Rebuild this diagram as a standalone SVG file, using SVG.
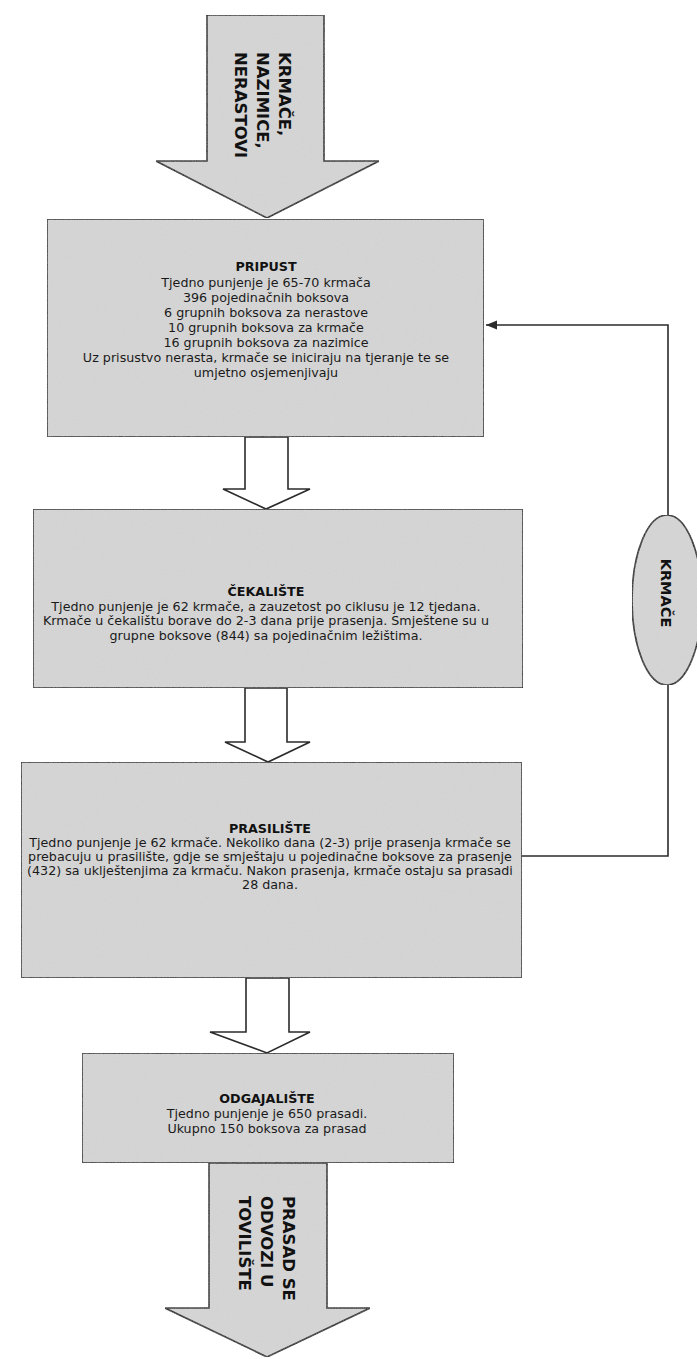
<svg xmlns="http://www.w3.org/2000/svg" width="697" height="1359" viewBox="0 0 697 1359">
<style>
  .box { fill: #d6d6d6; stroke: #2b2b2b; stroke-width: 1.6; filter: url(#grain); }
  .blk { fill: #d6d6d6; stroke: #2b2b2b; stroke-width: 1.6; stroke-linejoin: miter; filter: url(#grain); }
  .warr { fill: #ffffff; stroke: #2b2b2b; stroke-width: 1.6; stroke-linejoin: miter; }
  .line { fill: none; stroke: #2b2b2b; stroke-width: 1.6; }
  .t { font-family: "DejaVu Sans", Verdana, sans-serif; font-size: 12.7px; fill: #1a1a1a; text-anchor: middle; }
  .h { font-family: "DejaVu Sans", Verdana, sans-serif; font-size: 12.7px; font-weight: bold; fill: #111; text-anchor: middle; }
  .v { font-family: "DejaVu Sans", Verdana, sans-serif; font-size: 16.5px; font-weight: bold; fill: #111; text-anchor: start; }
  .ve { font-family: "DejaVu Sans", Verdana, sans-serif; font-size: 14.5px; font-weight: bold; fill: #111; text-anchor: middle; }
</style>
<defs>
  <filter id="grain" x="0" y="0" width="1" height="1" filterUnits="objectBoundingBox">
    <feTurbulence type="fractalNoise" baseFrequency="0.9" numOctaves="2" seed="3" result="n"/>
    <feColorMatrix in="n" type="matrix" values="0 0 0 0 0.55  0 0 0 0 0.55  0 0 0 0 0.55  0 0 0 0.35 -0.08" result="g"/>
    <feComposite in="g" in2="SourceGraphic" operator="in" result="gi"/>
    <feMerge><feMergeNode in="SourceGraphic"/><feMergeNode in="gi"/></feMerge>
  </filter>
  <marker id="ah" viewBox="0 0 10 10" refX="10" refY="5" markerWidth="11" markerHeight="11" markerUnits="userSpaceOnUse" orient="auto">
    <path d="M0,1 L10,5 L0,9 Z" fill="#2b2b2b"/>
  </marker>
</defs>
<rect width="697" height="1359" fill="#ffffff"/>

<g id="connectors">
  <path class="warr" d="M245,437 L288,437 L288,489 L310,489 L266,509 L223,489 L245,489 Z"/>
  <path class="warr" d="M245,688 L287,688 L287,742 L310,742 L268,762 L225,742 L245,742 Z"/>
  <path class="warr" d="M246,978 L289,978 L289,1032 L310,1032 L267,1053 L210,1032 L246,1032 Z"/>
  <path class="line" d="M522,856 L668,856 L668,685"/>
  <path class="line" d="M668,515 L668,325 L486,325" marker-end="url(#ah)"/>
</g>

<g id="input-arrow">
  <path class="blk" d="M207,15 L324,15 L324,161 L379,161 L267,218 L156,161 L207,161 Z"/>
  <text class="v" transform="translate(279,52) rotate(90)">KRMAČE,</text>
  <text class="v" transform="translate(257,52) rotate(90)">NAZIMICE,</text>
  <text class="v" transform="translate(235,52) rotate(90)">NERASTOVI</text>
</g>

<g id="pripust">
  <rect class="box" x="47" y="219" width="437" height="218"/>
  <text class="h" x="266" y="271">PRIPUST</text>
  <text class="t" x="266" y="287">Tjedno punjenje je 65-70 krmača</text>
  <text class="t" x="266" y="302">396 pojedinačnih boksova</text>
  <text class="t" x="266" y="317">6 grupnih boksova za nerastove</text>
  <text class="t" x="266" y="332">10 grupnih boksova za krmače</text>
  <text class="t" x="266" y="347">16 grupnih boksova za nazimice</text>
  <text class="t" x="266" y="362">Uz prisustvo nerasta, krmače se iniciraju na tjeranje te se</text>
  <text class="t" x="266" y="377">umjetno osjemenjivaju</text>
</g>

<g id="cekaliste">
  <rect class="box" x="33" y="509" width="490" height="179"/>
  <text class="h" x="266" y="596">ČEKALIŠTE</text>
  <text class="t" x="266" y="611">Tjedno punjenje je 62 krmače, a zauzetost po ciklusu je 12 tjedana.</text>
  <text class="t" x="266" y="625">Krmače u čekalištu borave do 2-3 dana prije prasenja. Smještene su u</text>
  <text class="t" x="266" y="640">grupne boksove (844) sa pojedinačnim ležištima.</text>
</g>

<g id="prasiliste">
  <rect class="box" x="21" y="762" width="501" height="216"/>
  <text class="h" x="270" y="833">PRASILIŠTE</text>
  <text class="t" x="270" y="847">Tjedno punjenje je 62 krmače. Nekoliko dana (2-3) prije prasenja krmače se</text>
  <text class="t" x="270" y="861">prebacuju u prasilište, gdje se smještaju u pojedinačne boksove za prasenje</text>
  <text class="t" x="270" y="875">(432) sa uklještenjima za krmaču. Nakon prasenja, krmače ostaju sa prasadi</text>
  <text class="t" x="270" y="889">28 dana.</text>
</g>

<g id="odgajaliste">
  <rect class="box" x="82" y="1053" width="372" height="110"/>
  <text class="h" x="267" y="1103">ODGAJALIŠTE</text>
  <text class="t" x="267" y="1118">Tjedno punjenje je 650 prasadi.</text>
  <text class="t" x="267" y="1133">Ukupno 150 boksova za prasad</text>
</g>

<g id="output-arrow">
  <path class="blk" d="M209,1163 L327,1163 L327,1308 L370,1308 L267,1357 L165,1308 L209,1308 Z"/>
  <text class="v" transform="translate(283,1196) rotate(90)">PRASAD SE</text>
  <text class="v" transform="translate(261,1196) rotate(90)">ODVOZI U</text>
  <text class="v" transform="translate(239,1196) rotate(90)">TOVILIŠTE</text>
</g>

<g id="krmace-node">
  <ellipse class="blk" cx="667" cy="600" rx="35" ry="85"/>
  <text class="ve" transform="translate(661,593) rotate(90)">KRMAČE</text>
</g>
</svg>
